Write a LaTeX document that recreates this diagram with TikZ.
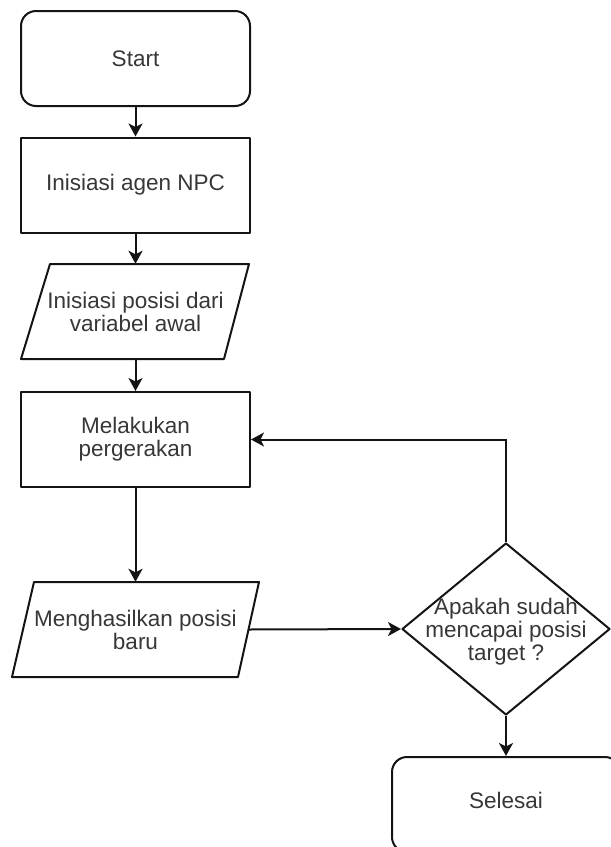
\documentclass[tikz,border=0pt]{standalone}
\usepackage{fontspec}
\setmainfont{Liberation Sans}
\usetikzlibrary{shapes.geometric,arrows.meta}
\definecolor{txt}{RGB}{55,55,55}
\definecolor{ln}{RGB}{20,20,20}
\begin{document}
\begin{tikzpicture}[x=1pt,y=-1pt,
  every node/.style={font=\fontsize{22.5}{23}\selectfont, text=txt, align=center, inner sep=0pt},
  shp/.style={draw=ln, line width=2pt, line join=round},
  termbox/.style={shp, rectangle, rounded corners=15pt, minimum width=229pt, minimum height=95pt},
  procbox/.style={shp, rectangle, minimum width=229pt, minimum height=95pt},
  iotext/.style={rectangle, minimum height=95pt},
  decbox/.style={shp, diamond, minimum width=208pt, minimum height=172pt},
  arr/.style={draw=ln, line width=2pt, -{Stealth[length=13pt,width=14pt,inset=3.5pt]}}
]
\useasboundingbox (0,0) rectangle (611,847);
\clip (0,0) rectangle (611,847);
\node[termbox] (start) at (135.5,58.5) {Start};
\node[procbox] (init) at (135.5,185) {Inisiasi agen NPC};
\node[iotext, minimum width=214pt] (pos1) at (135.5,311.5) {Inisiasi posisi dari\\variabel awal};
\draw[shp] (50,264) -- (249,264) -- (224,359) -- (21,359) -- cycle;
\node[procbox] (move) at (135.5,439.5) {Melakukan\\pergerakan};
\node[iotext, minimum width=226pt] (pos2) at (135.5,629.5) {Menghasilkan posisi\\baru};
\draw[shp] (34,582) -- (259,582) -- (238,677) -- (12,677) -- cycle;
\node[decbox] (dec) at (506,629) {};
\node at (506,632) (dect) {Apakah sudah\\mencapai posisi\\target ?};
\node[termbox, minimum width=228pt] (fin) at (506,804.5) {};
\node at (506,800) (fint) {Selesai};
\draw[arr] (start.south) -- (init.north);
\draw[arr] (init.south) -- (pos1.north);
\draw[arr] (pos1.south) -- (move.north);
\draw[arr] (move.south) -- (pos2.north);
\draw[arr] (pos2.east) -- (dec.west);
\draw[arr] (dec.north) |- (move.east);
\draw[arr] (dec.south) -- (fin.north);
\end{tikzpicture}
\end{document}
